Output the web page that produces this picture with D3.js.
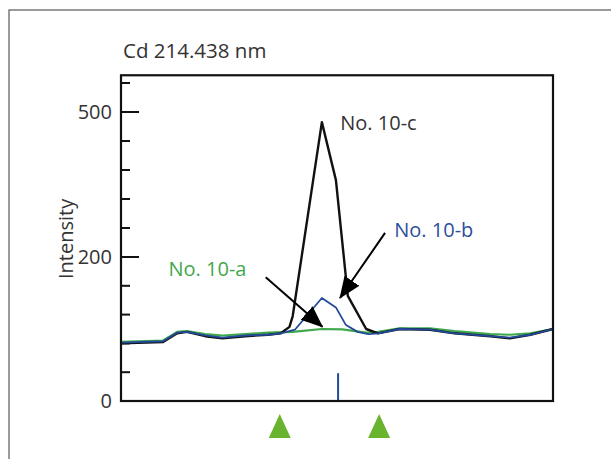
<!DOCTYPE html>
<html><head><meta charset="utf-8">
<script src="https://cdn.jsdelivr.net/npm/d3@7"></script>
<style>html,body{margin:0;padding:0;background:#fff;}svg{display:block;font-family:"Open Sans",sans-serif;}</style>
</head><body>
<svg id="c" width="611" height="459"></svg>
<script>
// wavelength offset (pm) from Cd 214.438 nm
const xBlack = [-20,-16.1,-14.8,-13.9,-12.2,-10.6,-8.5,-6.4,-5.2,-4.4,-4.1,-1.4,-0.1,1.0,2.7,3.8,5.8,8.6,10.9,14.2,16.0,17.9,20];
const yBlack = [80,82,94,96,90,87,90,92,94,103,118,479,359,146,100,94,100,99,94,90,87,92,100];
const xBlue  = [-20,-16.1,-14.8,-13.9,-12.2,-10.6,-8.5,-6.4,-5.2,-3.9,-1.4,-0.1,0.8,1.9,2.9,3.8,5.8,8.6,10.9,14.2,16.0,17.9,20];
const yBlue  = [81,83,95,96,91,88,91,92,94,99,143,130,106,96,93,94,100,99,94,90,88,92,100];
const xGreen = [-20,-16.1,-14.8,-13.9,-12.2,-10.6,-8.5,-6.4,-4.1,-1.4,0.5,2.7,3.8,5.8,8.6,10.9,14.2,16.0,17.9,20];
const yGreen = [82,84,96,97,93,91,93,95,96,100,99.5,95,96,101,101,97,93,92,94,100];
const yMajorTicks = [0,200,500];
const yMinorTicks = [40,80,120,160,260,320,380,440,560];
const markerPeak = [0.1];          // analysis line position
const markerBackground = [-5.3,3.9]; // background correction points
const labels = [
  {text:"No. 10-c", x:0.3, y:478, color:"#333333"},
  {text:"No. 10-b", x:5.3, y:256, color:"#2c4f9c"},
  {text:"No. 10-a", x:-15.6, y:183, color:"#3fa84c"}
];
const arrows = [
  {x1:4.45, y1:250, x2:0.28, y2:143},
  {x1:-6.6, y1:172, x2:-1.35, y2:103}
];

const svg = d3.select("#c");
const L=121, R=553, B=401;
const x = d3.scaleLinear().domain([-20,20]).range([L,R]);
const y = d3.scaleLinear().domain([0,200,500]).range([401,257,112]);
const yTopVal = 576;
const FS = 20;

// outer frame
svg.append("rect").attr("x",9).attr("y",10).attr("width",700).attr("height",600)
  .attr("fill","none").attr("stroke","#666").attr("stroke-width",1.3);

svg.append("text").attr("x",123).attr("y",58).attr("fill","#333").attr("font-size",20.5)
  .text("Cd 214.438 nm");

const g = svg.append("g");
g.selectAll(".mt").data(yMinorTicks).join("line")
  .attr("x1",L).attr("x2",L+9).attr("y1",d=>y(d)).attr("y2",d=>y(d))
  .attr("stroke","#111").attr("stroke-width",2);
g.selectAll(".Mt").data(yMajorTicks.filter(d=>d>0)).join("line")
  .attr("x1",L).attr("x2",L+18).attr("y1",d=>y(d)).attr("y2",d=>y(d))
  .attr("stroke","#111").attr("stroke-width",2);
g.selectAll(".tl").data(yMajorTicks).join("text")
  .attr("x",L-9).attr("y",d=>y(d)).attr("dy","0.36em").attr("text-anchor","end")
  .attr("fill","#333").attr("font-size",FS).text(d=>d);
svg.append("text").attr("transform",`translate(66,${(y(200)+y(250))/2-6}) rotate(-90)`)
  .attr("text-anchor","middle").attr("dy","0.36em").attr("fill","#333").attr("font-size",FS).text("Intensity");

// series
const line = (xs,ys)=>d3.line().x((d,i)=>x(xs[i])).y((d,i)=>y(ys[i]))(ys);
svg.append("path").attr("d",line(xGreen,yGreen)).attr("fill","none").attr("stroke","#3fa84c").attr("stroke-width",2.2).attr("stroke-linejoin","round");
svg.append("path").attr("d",line(xBlack,yBlack)).attr("fill","none").attr("stroke","#111").attr("stroke-width",2.4).attr("stroke-linejoin","round");
svg.append("path").attr("d",line(xBlue,yBlue)).attr("fill","none").attr("stroke","#234a9a").attr("stroke-width",1.8).attr("stroke-linejoin","round");

// analysis line
svg.selectAll(".pk").data(markerPeak).join("line")
  .attr("x1",d=>x(d)).attr("x2",d=>x(d)).attr("y1",y(40)+1).attr("y2",B)
  .attr("stroke","#234a9a").attr("stroke-width",2);

// plot box
svg.append("rect").attr("x",L).attr("y",y(yTopVal)).attr("width",R-L).attr("height",B-y(yTopVal))
  .attr("fill","none").attr("stroke","#111").attr("stroke-width",2.2);

// background triangles
svg.selectAll(".tri").data(markerBackground).join("path")
  .attr("d",d=>{const cx=x(d);return `M${cx},414 L${cx+11},438 L${cx-11},438 Z`;})
  .attr("fill","#69b42f");

// arrows
svg.append("defs").append("marker").attr("id","ah").attr("markerUnits","userSpaceOnUse")
  .attr("markerWidth",24).attr("markerHeight",20).attr("refX",21).attr("refY",9)
  .attr("orient","auto").attr("viewBox","0 0 24 20")
  .append("path").attr("d","M0,0 L22,9 L0,18 Z").attr("fill","#000");
svg.selectAll(".ar").data(arrows).join("line")
  .attr("x1",d=>x(d.x1)).attr("y1",d=>y(d.y1)).attr("x2",d=>x(d.x2)).attr("y2",d=>y(d.y2))
  .attr("stroke","#000").attr("stroke-width",2).attr("marker-end","url(#ah)");

svg.selectAll(".lb").data(labels).join("text")
  .attr("x",d=>x(d.x)).attr("y",d=>y(d.y)).attr("dy","0.36em")
  .attr("fill",d=>d.color).attr("font-size",FS).text(d=>d.text);
</script>
</body></html>
